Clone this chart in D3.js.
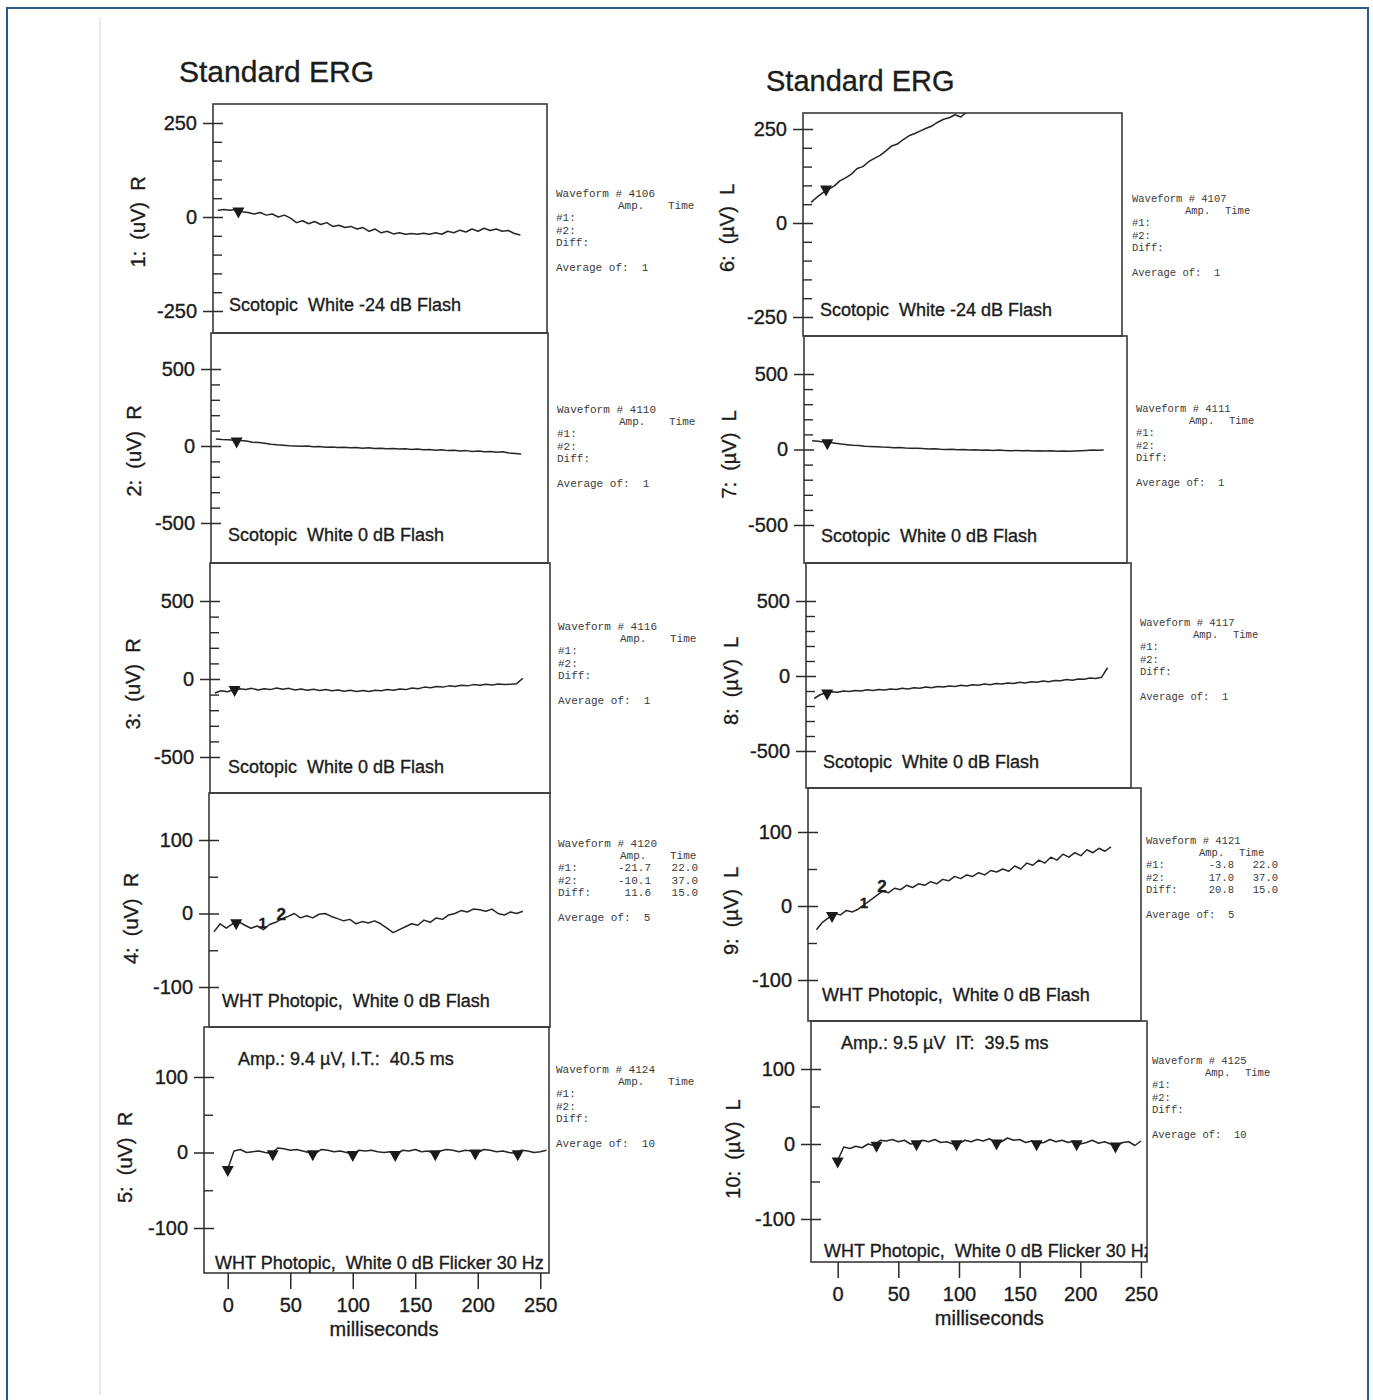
<!DOCTYPE html>
<html>
<head>
<meta charset="utf-8">
<script src="https://cdn.jsdelivr.net/npm/d3@7"></script>
<style>
  body { margin: 0; background: #fff; }
  svg { display: block; }
  svg text { font-family: "Liberation Sans", Arial, sans-serif; fill: #1c1c1c; stroke: #1c1c1c; stroke-width: 0.35px; white-space: pre; }
  svg text.mono { font-family: "Liberation Mono", "DejaVu Sans Mono", monospace; fill: #3a3a3a; stroke: none; }
</style>
</head>
<body>
<svg id="chart" width="1373" height="1400"></svg>
<script>
// sample times (ms) shared by every waveform
const timesMs = [-15, -10, -5, 0, 5, 10, 15, 20, 25, 30, 35, 40, 45, 50, 55, 60, 65, 70, 75, 80,
  85, 90, 95, 100, 105, 110, 115, 120, 125, 130, 135, 140, 145, 150, 155, 160, 165, 170, 175, 180,
  185, 190, 195, 200, 205, 210, 215, 220, 225, 230, 235, 240, 245, 250, 255];

// right eye (R), µV
const r1Values = [18, 20, 18, 20, 14, 12, 8, 12, 5, 8, 0, 5, -3, -15, -10, -18, -12, -20, -15, -25,
  -22, -28, -25, -32, -28, -38, -32, -42, -38, -45, -42, -46, -44, -46, -43, -46, -42, -46, -38, -42,
  -35, -40, -32, -38, -30, -36, -32, -38, -36, -44, -48, null, null, null, null];
const r2Values = [45, 42, 40, 38, 35, 32, 25, 22, 18, 12, 8, 5, 2, 0, -2, 0, -5, -3, -8, -6,
  -10, -8, -12, -10, -14, -12, -16, -14, -18, -16, -20, -18, -22, -20, -25, -22, -28, -25, -30, -28,
  -32, -30, -35, -32, -38, -36, -40, -38, -45, -48, -52, null, null, null, null];
const r3Values = [-90, -75, -82, -70, -62, -68, -60, -70, -62, -68, -58, -66, -60, -70, -64, -72, -66, -74, -68, -76,
  -70, -78, -72, -80, -74, -80, -72, -76, -68, -72, -64, -68, -58, -62, -52, -56, -48, -52, -44, -48,
  -40, -44, -36, -40, -34, -38, -32, -36, -34, -30, 5, null, null, null, null];
const r4Values = [-25, -14, -20, -14, -11, -16, -20, -17, -22, -15, -12, -7, -4, 0, -6, -3, -6, -1, 0, -4,
  -7, -10, -8, -14, -11, -13, -10, -14, -20, -26, -22, -18, -14, -16, -9, -12, -6, -8, -2, 0,
  4, 2, 6, 5, 3, 6, 0, -2, 2, 0, 3, null, null, null, null];
const r5Values = [null, null, null, -22, 2, 4, 0, 1, 2, 0, -1, 6, 5, 3, 4, 2, 0, -1, 4, 3,
  1, 2, 0, -2, 3, 2, 3, 1, 0, 1, -2, 3, 2, 4, 1, 2, -1, 2, 4, 3,
  1, 3, 2, 0, 4, 3, 1, 2, 0, -1, 3, 2, 0, 1, 3];

// left eye (L), µV
const l6Values = [55, 68, 80, 90, 98, 112, 120, 130, 145, 150, 163, 172, 180, 192, 205, 210, 222, 232, 238, 245,
  252, 258, 268, 276, 280, 288, 282, 295, 305, 315, 325, null, null, null, null, null, null, null, null, null,
  null, null, null, null, null, null, null, null, null, null, null, null, null, null, null];
const l7Values = [58, 55, 50, 46, 42, 36, 32, 28, 26, 22, 20, 18, 16, 15, 12, 13, 10, 8, 9, 6,
  4, 5, 2, 0, 2, -2, 0, -4, -2, -5, -3, -6, -4, -6, -8, -6, -9, -7, -10, -8,
  -10, -9, -12, -10, -12, -10, -8, -6, -4, -5, -3, null, null, null, null];
const l8Values = [-150, -125, -112, -105, -108, -100, -104, -96, -100, -92, -96, -90, -94, -86, -90, -82, -86, -78, -82, -74,
  -78, -70, -74, -66, -70, -62, -66, -58, -62, -54, -58, -50, -54, -46, -50, -42, -46, -38, -42, -34,
  -38, -30, -32, -24, -28, -20, -22, -14, -16, -8, 55, null, null, null, null];
const l9Values = [-32, -22, -16, -10, -12, -6, -8, -4, 2, 8, 14, 20, 18, 24, 22, 28, 25, 30, 28, 33,
  30, 36, 34, 40, 37, 42, 40, 45, 42, 48, 46, 50, 47, 54, 50, 58, 55, 62, 58, 66,
  62, 70, 66, 72, 68, 76, 72, 78, 74, 80, null, null, null, null, null];
const l10Values = [null, null, null, -22, -4, -6, -3, -5, 0, -2, 5, 4, 6, 3, 5, 0, 1, 5, 3, 6,
  2, 3, 0, 1, 5, 3, 6, 4, 7, 2, 3, 8, 5, 6, 2, 4, 1, 2, 6, 3,
  5, 2, 4, 0, 2, 5, 1, 3, 0, -2, 2, 3, -2, 4, null];

const waveValues = [r1Values, r2Values, r3Values, r4Values, r5Values,
  l6Values, l7Values, l8Values, l9Values, l10Values];

// axis ranges and tick steps (µV)
const yLimits = [250, 500, 500, 100, 100, 250, 500, 500, 100, 100];
const minorSteps = [50, 100, 100, 50, 50, 50, 100, 100, 50, 50];
const xTicks = [0, 50, 100, 150, 200, 250];

const channelLabels = ['1:  (uV)  R', '2:  (uV)  R', '3:  (uV)  R', '4:  (uV)  R', '5:  (uV)  R',
  '6:  (µV)  L', '7:  (µV)  L', '8:  (µV)  L', '9:  (µV)  L', '10:  (µV)  L'];
const protocolLabels = ['Scotopic  White -24 dB Flash', 'Scotopic  White 0 dB Flash', 'Scotopic  White 0 dB Flash',
  'WHT Photopic,  White 0 dB Flash', 'WHT Photopic,  White 0 dB Flicker 30 Hz',
  'Scotopic  White -24 dB Flash', 'Scotopic  White 0 dB Flash', 'Scotopic  White 0 dB Flash',
  'WHT Photopic,  White 0 dB Flash', 'WHT Photopic,  White 0 dB Flicker 30 Hz'];
const waveformIds = [4106, 4110, 4116, 4120, 4124, 4107, 4111, 4117, 4121, 4125];
const averageCounts = [1, 1, 1, 5, 10, 1, 1, 1, 5, 10];
const flickerNotes = ['Amp.: 9.4 µV, I.T.:  40.5 ms', 'Amp.: 9.5 µV  IT:  39.5 ms'];

// peak table of the photopic flash (#1, #2, Diff)
const r4PeakAmps = ['-21.7', '-10.1', '11.6'];
const r4PeakTimes = ['22.0', '37.0', '15.0'];
const l9PeakAmps = ['-3.8', '17.0', '20.8'];
const l9PeakTimes = ['22.0', '37.0', '15.0'];

// down-pointing triangle cursors [ms, µV]
const triangleMarks = [
  [[2, 17]], [[2, 36]], [[1, -64]], [[3, -12]],
  [[0, -22], [36, -1], [68, -1], [100, -2], [134, -2], [166, -1], [198, 0], [232, -1]],
  [[-2, 92]], [[-2, 48]], [[-4, -110]], [[-2, -12]],
  [[0, -22], [32, -1], [65, 1], [98, 1], [131, 2], [164, 1], [197, 1], [229, -2]]
];

// ---- layout (pixels) ----
const panelBoxes = [
  { left: 213, right: 547, top: 104, bottom: 333, yHi: 123, yLo: 311, labX: 138 },
  { left: 211, right: 548, top: 333, bottom: 563, yHi: 369, yLo: 523, labX: 134 },
  { left: 210, right: 550, top: 563, bottom: 793, yHi: 601, yLo: 757, labX: 133 },
  { left: 209, right: 550, top: 793, bottom: 1027, yHi: 840, yLo: 987, labX: 131 },
  { left: 204, right: 549, top: 1027, bottom: 1273, yHi: 1077, yLo: 1228, labX: 125 },
  { left: 803, right: 1122, top: 113, bottom: 336, yHi: 129, yLo: 317, labX: 727 },
  { left: 804, right: 1127, top: 336, bottom: 563, yHi: 374, yLo: 525, labX: 729 },
  { left: 806, right: 1131, top: 563, bottom: 788, yHi: 601, yLo: 751, labX: 731 },
  { left: 808, right: 1141, top: 788, bottom: 1021, yHi: 832, yLo: 980, labX: 731 },
  { left: 811, right: 1147, top: 1021, bottom: 1262, yHi: 1069, yLo: 1219, labX: 733 }
];
const labelInset = [16, 17, 18, 13, 11, 17, 17, 17, 14, 13];
const labelRaise = [22, 22, 20, 20, 4, 20, 21, 20, 20, 5];
const infoPos = [[556, 197], [557, 413], [558, 630], [558, 847], [556, 1073],
  [1132, 202], [1136, 412], [1140, 626], [1146, 844], [1152, 1064]];
const timeDomains = [[-19, 257], [-22, 255]];

const svg = d3.select('#chart');

// page frame
svg.append('rect')
  .attr('x', 7).attr('y', 8).attr('width', 1361).attr('height', 1400)
  .attr('fill', '#fff').attr('stroke', '#2c5a86').attr('stroke-width', 2);
svg.append('line')
  .attr('x1', 100).attr('x2', 100).attr('y1', 18).attr('y2', 1395)
  .attr('stroke', '#d4d4d4').attr('stroke-width', 1);

// titles
svg.append('text').attr('x', 179).attr('y', 82).style('font-size', '30px').text('Standard ERG');
svg.append('text').attr('x', 766).attr('y', 91).style('font-size', '29px').text('Standard ERG');

const defs = svg.append('defs');

panelBoxes.forEach((b, i) => {
  const col = i < 5 ? 0 : 1;
  const lim = yLimits[i];
  const x = d3.scaleLinear().domain(timeDomains[col]).range([b.left, b.right]);
  const y = d3.scaleLinear().domain([-lim, lim]).range([b.yLo, b.yHi]);
  const g = svg.append('g').attr('class', 'panel');

  defs.append('clipPath').attr('id', 'clip' + i)
    .append('rect')
    .attr('x', b.left).attr('y', b.top)
    .attr('width', b.right - b.left).attr('height', b.bottom - b.top);

  // waveform
  const line = d3.line()
    .defined(d => d[1] != null)
    .x(d => x(d[0]))
    .y(d => y(d[1]));
  g.append('path')
    .datum(timesMs.map((t, k) => [t, waveValues[i][k]]))
    .attr('clip-path', `url(#clip${i})`)
    .attr('fill', 'none')
    .attr('stroke', '#262626')
    .attr('stroke-width', 1.5)
    .attr('stroke-linejoin', 'round')
    .attr('d', line);

  // triangle cursors
  g.selectAll('path.cursor')
    .data(triangleMarks[i])
    .join('path')
    .attr('class', 'cursor')
    .attr('fill', '#1a1a1a')
    .attr('d', d => {
      const cx = x(d[0]), cy = y(d[1]);
      return `M${cx - 6},${cy - 3}L${cx + 6},${cy - 3}L${cx},${cy + 8}Z`;
    });

  // panel frame
  g.append('rect')
    .attr('x', b.left).attr('y', b.top)
    .attr('width', b.right - b.left).attr('height', b.bottom - b.top)
    .attr('fill', 'none').attr('stroke', '#3a3a3a').attr('stroke-width', 1.6);

  // y axis: major ticks cross the frame, minor ticks sit inside
  const majors = [lim, 0, -lim];
  const minors = d3.range(-lim, lim + 1, minorSteps[i]).filter(v => !majors.includes(v));
  const yMajor = g.append('g')
    .attr('transform', `translate(${b.left + 10},0)`)
    .call(d3.axisLeft(y).tickValues(majors).tickSize(20).tickPadding(6).tickFormat(d => String(d)));
  yMajor.select('.domain').remove();
  yMajor.selectAll('line').attr('stroke', '#2a2a2a').attr('stroke-width', 1.5);
  yMajor.selectAll('text').style('font-size', '20px').attr('fill', '#1c1c1c');

  const yMinor = g.append('g')
    .attr('transform', `translate(${b.left + 9},0)`)
    .call(d3.axisLeft(y).tickValues(minors).tickSize(9).tickFormat(''));
  yMinor.select('.domain').remove();
  yMinor.selectAll('line').attr('stroke', '#2a2a2a').attr('stroke-width', 1.4);

  // channel label
  g.append('text')
    .attr('transform', `translate(${b.labX},${y(0) + 5}) rotate(-90)`)
    .attr('text-anchor', 'middle')
    .attr('dominant-baseline', 'central')
    .style('font-size', '20px')
    .text(channelLabels[i]);

  // protocol label
  g.append('text')
    .attr('x', b.left + labelInset[i])
    .attr('y', b.bottom - labelRaise[i])
    .attr('clip-path', `url(#clip${i})`)
    .style('font-size', '18px')
    .text(protocolLabels[i]);

  // info block to the right
  const [ix, iy] = infoPos[i];
  const wide = col === 0;
  const off = wide ? { amp: 62, time: 112, ampEnd: 93, timeEnd: 140, fs: 11 }
                   : { amp: 53, time: 93, ampEnd: 88, timeEnd: 132, fs: 10.5 };
  const info = g.append('g').attr('class', 'info').style('font-size', off.fs + 'px');
  const mono = (tx, ty, s, anchor) => info.append('text').attr('class', 'mono')
    .attr('x', tx).attr('y', ty).attr('text-anchor', anchor || 'start').text(s);
  mono(ix, iy, `Waveform # ${waveformIds[i]}`);
  mono(ix + off.amp, iy + 12, 'Amp.');
  mono(ix + off.time, iy + 12, 'Time');
  const rowNames = ['#1:', '#2:', 'Diff:'];
  rowNames.forEach((r, k) => mono(ix, iy + 24 + k * 12.5, r));
  mono(ix, iy + 74, `Average of:  ${averageCounts[i]}`);

  const peakAmps = i === 3 ? r4PeakAmps : i === 8 ? l9PeakAmps : null;
  const peakTimes = i === 3 ? r4PeakTimes : i === 8 ? l9PeakTimes : null;
  if (peakAmps) {
    rowNames.forEach((r, k) => {
      mono(ix + off.ampEnd, iy + 24 + k * 12.5, peakAmps[k], 'end');
      mono(ix + off.timeEnd, iy + 24 + k * 12.5, peakTimes[k], 'end');
    });
    // numbered peak markers on the trace
    [0, 1].forEach(k => {
      g.append('text')
        .attr('x', x(+peakTimes[k]) + 3)
        .attr('y', y(+peakAmps[k]) - 1)
        .attr('text-anchor', 'middle')
        .style('font-size', k === 0 ? '15px' : '17px')
        .style('font-weight', 'bold')
        .text(String(k + 1));
    });
  }

  // flicker panels: note on top + time axis underneath
  if (i === 4 || i === 9) {
    g.append('text')
      .attr('x', i === 4 ? 238 : 841)
      .attr('y', i === 4 ? 1065 : 1049)
      .style('font-size', '18px')
      .text(flickerNotes[col]);

    const xAxis = g.append('g')
      .attr('transform', `translate(0,${b.bottom})`)
      .call(d3.axisBottom(x).tickValues(xTicks).tickSize(16).tickPadding(9).tickFormat(d => String(d)));
    xAxis.select('.domain').remove();
    xAxis.selectAll('line').attr('stroke', '#2a2a2a').attr('stroke-width', 1.5);
    xAxis.selectAll('text').style('font-size', '20px').attr('fill', '#1c1c1c');

    g.append('text')
      .attr('x', (x(0) + x(250)) / 2)
      .attr('y', b.bottom + 63)
      .attr('text-anchor', 'middle')
      .style('font-size', '20px')
      .text('milliseconds');
  }
});
</script>
</body>
</html>
